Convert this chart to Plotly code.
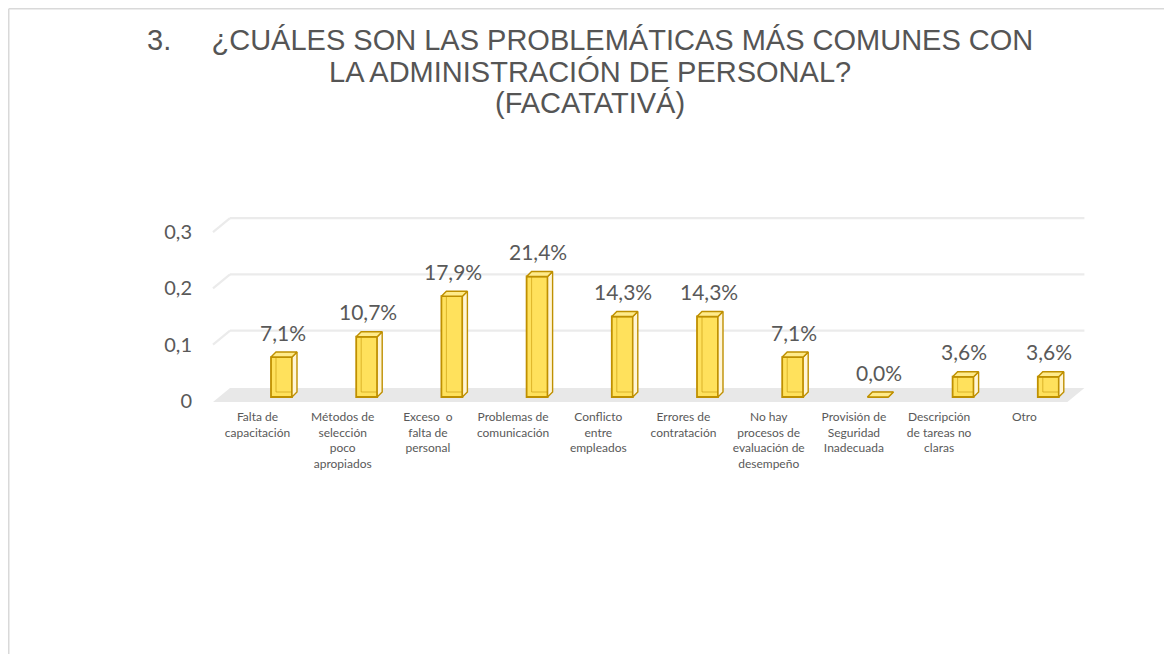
import plotly.graph_objects as go

# data
categories = [
    "Falta de<br>capacitación",
    "Métodos de<br>selección<br>poco<br>apropiados",
    "Exceso  o<br>falta de<br>personal",
    "Problemas de<br>comunicación",
    "Conflicto<br>entre<br>empleados",
    "Errores de<br>contratación",
    "No hay<br>procesos de<br>evaluación de<br>desempeño",
    "Provisión de<br>Seguridad<br>Inadecuada",
    "Descripción<br>de tareas no<br>claras",
    "Otro",
]
values = [0.071, 0.107, 0.179, 0.214, 0.143, 0.143, 0.071, 0.0, 0.036, 0.036]
y_ticks = [0, 0.1, 0.2, 0.3]

TITLE_LINES = [
    "3.\u00a0\u00a0\u00a0\u00a0\u00a0¿CUÁLES SON LAS PROBLEMÁTICAS MÁS COMUNES CON",
    "LA ADMINISTRACIÓN DE PERSONAL?",
    "(FACATATIVÁ)",
]

# page puts the plot 8px in from the top-left corner (body margin)
OFF = 8
FIG_W, FIG_H = 1172, 654

# plot area in screen pixels, converted to figure pixels
ML = 201 - OFF
MT = 211 - OFF
MB = FIG_H - (404 - OFF)
MR = FIG_W - (1095 - OFF)
PW, PH = FIG_W - ML - MR, FIG_H - MT - MB
PX_PER_CAT = 85.2
PX_PER_UNIT = 563.0
X_LO = -((281.5 - OFF) - ML) / PX_PER_CAT
Y_LO = -((FIG_H - MB) - (397 - OFF)) / PX_PER_UNIT

# pseudo-3d depth in data units
BAR_W = 21 / PX_PER_CAT
DX = 5 / PX_PER_CAT
DY = 5 / PX_PER_UNIT
WALL_DX = 17 / PX_PER_CAT
WALL_DY = 10 / PX_PER_UNIT

GOLD = "#BF9000"
GREY = "#595959"

xs = list(range(len(values)))

fig = go.Figure()

# front faces
fig.add_trace(
    go.Bar(
        x=xs,
        y=values,
        width=BAR_W,
        marker=dict(color="#FFE15C", line=dict(color=GOLD, width=1.8)),
        hoverinfo="skip",
        showlegend=False,
    )
)

# side, top and hidden edges built from the values
side_x, side_y, top_x, top_y, back_x, back_y = [], [], [], [], [], []
for x, v in zip(xs, values):
    r = x + BAR_W / 2
    l = x - BAR_W / 2
    side_x += [r, r, r + DX, r + DX, r, None]
    side_y += [0, v, v + DY, DY, 0, None]
    top_x += [l, r, r + DX, l + DX, l, None]
    top_y += [v, v, v + DY, v + DY, v, None]
    back_x += [l + DX, l + DX, r + DX, None]
    back_y += [v + DY, DY, DY, None]

fig.add_trace(
    go.Scatter(
        x=back_x, y=back_y, mode="lines",
        line=dict(color="rgba(191,144,0,0.55)", width=1),
        hoverinfo="skip", showlegend=False,
    )
)
fig.add_trace(
    go.Scatter(
        x=side_x, y=side_y, mode="lines", fill="toself",
        fillcolor="#FFF5D6", line=dict(color=GOLD, width=1.4),
        hoverinfo="skip", showlegend=False,
    )
)
fig.add_trace(
    go.Scatter(
        x=top_x, y=top_y, mode="lines", fill="toself",
        fillcolor="#FFEB8A", line=dict(color=GOLD, width=1.4),
        hoverinfo="skip", showlegend=False,
    )
)

# floor and back wall gridlines
x_left = X_LO + 12 / PX_PER_CAT
x_right = len(values) - 1 + 0.5 + (1083 - 1089.5) / PX_PER_CAT
fig.add_shape(
    type="path",
    path=(
        f"M {x_left},{Y_LO + 2 / PX_PER_UNIT} "
        f"L {x_right - WALL_DX},{Y_LO + 2 / PX_PER_UNIT} "
        f"L {x_right},{WALL_DY - 1 / PX_PER_UNIT} "
        f"L {x_left + WALL_DX},{WALL_DY - 1 / PX_PER_UNIT} Z"
    ),
    fillcolor="#E8E8E8",
    line=dict(width=0),
    layer="below",
)
for t in y_ticks[1:]:
    fig.add_shape(
        type="line",
        x0=x_left + WALL_DX, x1=x_right, y0=t + WALL_DY, y1=t + WALL_DY,
        line=dict(color="#EBEBEB", width=2.2), layer="below",
    )
    fig.add_shape(
        type="line",
        x0=x_left, x1=x_left + WALL_DX, y0=t - 4 / PX_PER_UNIT, y1=t + WALL_DY,
        line=dict(color="#EBEBEB", width=2.2), layer="below",
    )

# data labels
for x, v in zip(xs, values):
    fig.add_annotation(
        x=x, y=v, text=f"{v * 100:.1f}%".replace(".", ","),
        showarrow=False, yshift=25, xshift=1,
        font=dict(family="Lato, sans-serif", size=21, color=GREY),
    )

# title lines
title_y = [40, 72, 103]
for txt, py in zip(TITLE_LINES, title_y):
    fig.add_annotation(
        xref="paper", yref="paper",
        x=((590 - OFF) - ML) / PW, y=((FIG_H - MB) - (py - OFF)) / PH,
        text=txt, showarrow=False, xanchor="center", yanchor="middle",
        font=dict(family="Liberation Sans, Arial, sans-serif", size=29, color="#555555"),
    )

# chart frame (left and top border)
fx0 = (0.75 - ML) / PW
fy0 = ((FIG_H - MB) - 0.75) / PH
fig.add_shape(type="line", xref="paper", yref="paper",
              x0=fx0, x1=fx0, y0=fy0, y1=-(MB + 5) / PH,
              line=dict(color="#D9D9D9", width=1.5))
fig.add_shape(type="line", xref="paper", yref="paper",
              x0=fx0, x1=(FIG_W + 5 - ML) / PW, y0=fy0, y1=fy0,
              line=dict(color="#D9D9D9", width=1.5))

fig.update_layout(
    width=FIG_W,
    height=FIG_H,
    margin=dict(l=ML, r=MR, t=MT, b=MB, autoexpand=False),
    paper_bgcolor="white",
    plot_bgcolor="white",
    separators=",.",
    showlegend=False,
    xaxis=dict(
        range=[X_LO, X_LO + PW / PX_PER_CAT],
        tickvals=xs,
        ticktext=categories,
        ticklabelshift=-24,
        ticklabelstandoff=4,
        tickfont=dict(family="Lato, sans-serif", size=12, color=GREY),
        showgrid=False, zeroline=False, showline=False, ticks="",
    ),
    yaxis=dict(
        range=[Y_LO, Y_LO + PH / PX_PER_UNIT],
        tickvals=y_ticks,
        tickformat="~g",
        ticklabelshift=4,
        ticklabelstandoff=8,
        tickfont=dict(family="Lato, sans-serif", size=20, color=GREY),
        showgrid=False, zeroline=False, showline=False, ticks="",
    ),
)

fig.write_html("out.html")
